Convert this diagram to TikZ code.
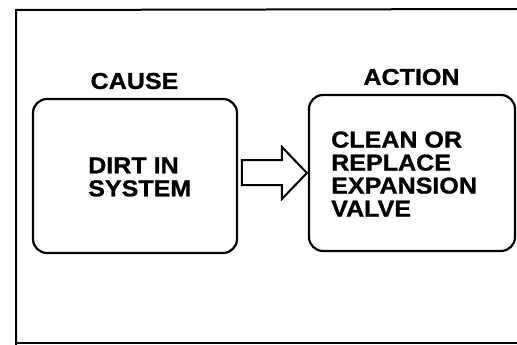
\documentclass[tikz,border=0pt]{standalone}
\usepackage{fontspec}
\setmainfont{Liberation Sans}
\newfontfamily\heavyfont{Liberation Sans Bold}[FakeBold=1,FakeStretch=1.09]
\usetikzlibrary{calc}
\begin{document}
\begin{tikzpicture}[x=1pt,y=-1pt,
  frame/.style={line width=2pt},
  panel/.style={draw,line width=2.2pt,rounded corners=14pt,minimum width=204pt,minimum height=154pt,inner sep=0pt},
  heading/.style={font=\heavyfont\fontsize{23}{23}\selectfont,inner sep=0pt},
  body/.style={font=\heavyfont\fontsize{23}{23}\selectfont,align=left,inner sep=0pt},
  blockarrow/.style={draw,line width=2pt,fill=white,line join=miter}]
  \useasboundingbox (0,0) rectangle (517,345);
  % outer frame, open on the right
  \draw[frame] (517,9) -- (16,10) -- (16,345);
  \draw[frame] (16,343) -- (517,343);
  % cause and action panels
  \node[panel] (cause) at (135,176) {};
  \node[panel,minimum width=206pt,minimum height=156pt] (action) at (412,173) {};
  \node[heading] (causehead) at (134.5,81) {CAUSE};
  \node[heading] (actionhead) at (411.5,77) {ACTION};
  \node[body,anchor=west] (causetext) at (88,177) {DIRT IN\\SYSTEM};
  \node[body,anchor=west] (actiontext) at (331,174) {CLEAN OR\\REPLACE\\EXPANSION\\VALVE};
  % block arrow from cause to action
  \draw[blockarrow]
    ($(action.west)+(-1,0)$) -- ($(action.west)+(-26,-26)$) -- ($(action.west)+(-26,-13)$)
    -- ($(action.west)+(-66,-13)$) -- ($(action.west)+(-66,12)$) -- ($(action.west)+(-26,12)$)
    -- ($(action.west)+(-26,26)$) -- cycle;
\end{tikzpicture}
\end{document}
